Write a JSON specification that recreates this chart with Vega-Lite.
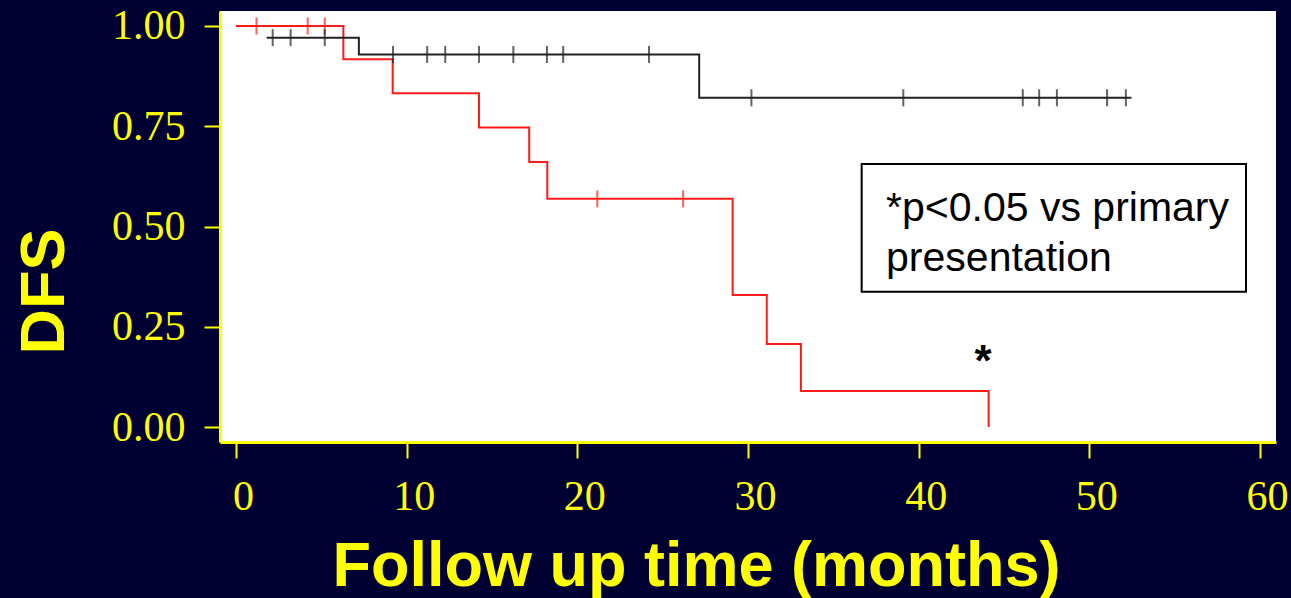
{
  "$schema": "https://vega.github.io/schema/vega-lite/v6.json",
  "width": 1056,
  "height": 431,
  "autosize": {"type": "none"},
  "padding": {"left": 220, "top": 11, "right": 15, "bottom": 156},
  "background": "#000033",
  "view": {"fill": "#ffffff", "stroke": null},
  "config": {
    "axis": {
      "domainColor": "#ffff00",
      "domainWidth": 3,
      "tickColor": "#ffff00",
      "tickWidth": 2,
      "tickSize": 16,
      "labelColor": "#ffff00",
      "labelFont": "Liberation Serif",
      "labelFontSize": 42,
      "labelOverlap": false,
      "labelFlush": false,
      "grid": false,
      "titleColor": "#ffff00",
      "titleFont": "Liberation Sans",
      "titleFontWeight": "bold",
      "titleFontSize": 63
    }
  },
  "datasets": {
    "curves": [
      {"group": "Recurrent", "time": 0, "surv": 1.0},
      {"group": "Recurrent", "time": 6.29, "surv": 0.917},
      {"group": "Recurrent", "time": 9.18, "surv": 0.832},
      {"group": "Recurrent", "time": 14.24, "surv": 0.747},
      {"group": "Recurrent", "time": 17.18, "surv": 0.661},
      {"group": "Recurrent", "time": 18.24, "surv": 0.569},
      {"group": "Recurrent", "time": 29.1, "surv": 0.329},
      {"group": "Recurrent", "time": 31.1, "surv": 0.207},
      {"group": "Recurrent", "time": 33.1, "surv": 0.09},
      {"group": "Recurrent", "time": 44.1, "surv": 0.0},
      {"group": "Primary", "time": 1.8, "surv": 0.971},
      {"group": "Primary", "time": 7.2, "surv": 0.929},
      {"group": "Primary", "time": 27.14, "surv": 0.821},
      {"group": "Primary", "time": 52.47, "surv": 0.821}
    ],
    "censored": [
      {"group": "Recurrent", "time": 1.2, "surv": 1.0},
      {"group": "Recurrent", "time": 4.2, "surv": 1.0},
      {"group": "Recurrent", "time": 5.2, "surv": 1.0},
      {"group": "Recurrent", "time": 21.17, "surv": 0.569},
      {"group": "Recurrent", "time": 26.2, "surv": 0.569},
      {"group": "Primary", "time": 2.15, "surv": 0.971},
      {"group": "Primary", "time": 3.2, "surv": 0.971},
      {"group": "Primary", "time": 5.2, "surv": 0.971},
      {"group": "Primary", "time": 9.2, "surv": 0.929},
      {"group": "Primary", "time": 11.2, "surv": 0.929},
      {"group": "Primary", "time": 12.26, "surv": 0.929},
      {"group": "Primary", "time": 14.24, "surv": 0.929},
      {"group": "Primary", "time": 16.25, "surv": 0.929},
      {"group": "Primary", "time": 18.22, "surv": 0.929},
      {"group": "Primary", "time": 19.17, "surv": 0.929},
      {"group": "Primary", "time": 24.2, "surv": 0.929},
      {"group": "Primary", "time": 30.2, "surv": 0.821},
      {"group": "Primary", "time": 39.1, "surv": 0.821},
      {"group": "Primary", "time": 46.1, "surv": 0.821},
      {"group": "Primary", "time": 47.06, "surv": 0.821},
      {"group": "Primary", "time": 48.1, "surv": 0.821},
      {"group": "Primary", "time": 51.04, "surv": 0.821},
      {"group": "Primary", "time": 52.14, "surv": 0.821}
    ],
    "box": [
      {"time": 36.66, "time2": 59.18, "surv": 0.656, "surv2": 0.337}
    ],
    "notes": [
      {"time": 38.09, "surv": 0.5145, "label": "*p<0.05 vs primary"},
      {"time": 38.09, "surv": 0.389, "label": "presentation"}
    ],
    "star": [
      {"time": 43.77, "surv": 0.126, "label": "*"}
    ]
  },
  "encoding": {
    "x": {
      "field": "time",
      "type": "quantitative",
      "scale": {"domain": [-0.9375, 60.9375], "nice": false, "zero": false},
      "axis": {
        "values": [0, 10, 20, 30, 40, 50, 60],
        "format": "d",
        "labelPadding": 18,
        "labelOffset": 7,
        "title": "Follow up time (months)",
        "titleX": 476,
        "titleY": 143,
        "titleAlign": "center",
        "titleBaseline": "alphabetic"
      }
    },
    "y": {
      "field": "surv",
      "type": "quantitative",
      "scale": {"domain": [-0.0374, 1.0374], "nice": false, "zero": false},
      "axis": {
        "values": [0, 0.25, 0.5, 0.75, 1],
        "format": ".2f",
        "labelPadding": 19,
        "title": "DFS",
        "titleAngle": -90,
        "titleX": -157,
        "titleY": 280,
        "titleAlign": "center",
        "titleBaseline": "alphabetic"
      }
    }
  },
  "layer": [
    {
      "data": {"name": "curves"},
      "mark": {"type": "line", "interpolate": "step-after", "strokeWidth": 2},
      "encoding": {
        "color": {
          "field": "group",
          "type": "nominal",
          "scale": {"domain": ["Primary", "Recurrent"], "range": ["#222222", "#ff1a1a"]},
          "legend": null
        }
      }
    },
    {
      "data": {"name": "censored"},
      "mark": {"type": "tick", "orient": "vertical", "size": 17, "thickness": 2},
      "encoding": {
        "color": {
          "field": "group",
          "type": "nominal",
          "scale": {"domain": ["Primary", "Recurrent"], "range": ["#222222", "#ff1a1a"]},
          "legend": null
        }
      }
    },
    {
      "data": {"name": "box"},
      "mark": {"type": "rect", "fill": "#ffffff", "stroke": "#000000", "strokeWidth": 2},
      "encoding": {
        "x2": {"field": "time2"},
        "y2": {"field": "surv2"}
      }
    },
    {
      "data": {"name": "notes"},
      "mark": {"type": "text", "align": "left", "baseline": "alphabetic", "font": "Liberation Sans", "fontSize": 41, "color": "#000000"},
      "encoding": {"text": {"field": "label"}}
    },
    {
      "data": {"name": "star"},
      "mark": {"type": "text", "align": "center", "baseline": "alphabetic", "font": "Liberation Sans", "fontWeight": "bold", "fontSize": 44, "color": "#000000"},
      "encoding": {"text": {"field": "label"}}
    }
  ]
}
